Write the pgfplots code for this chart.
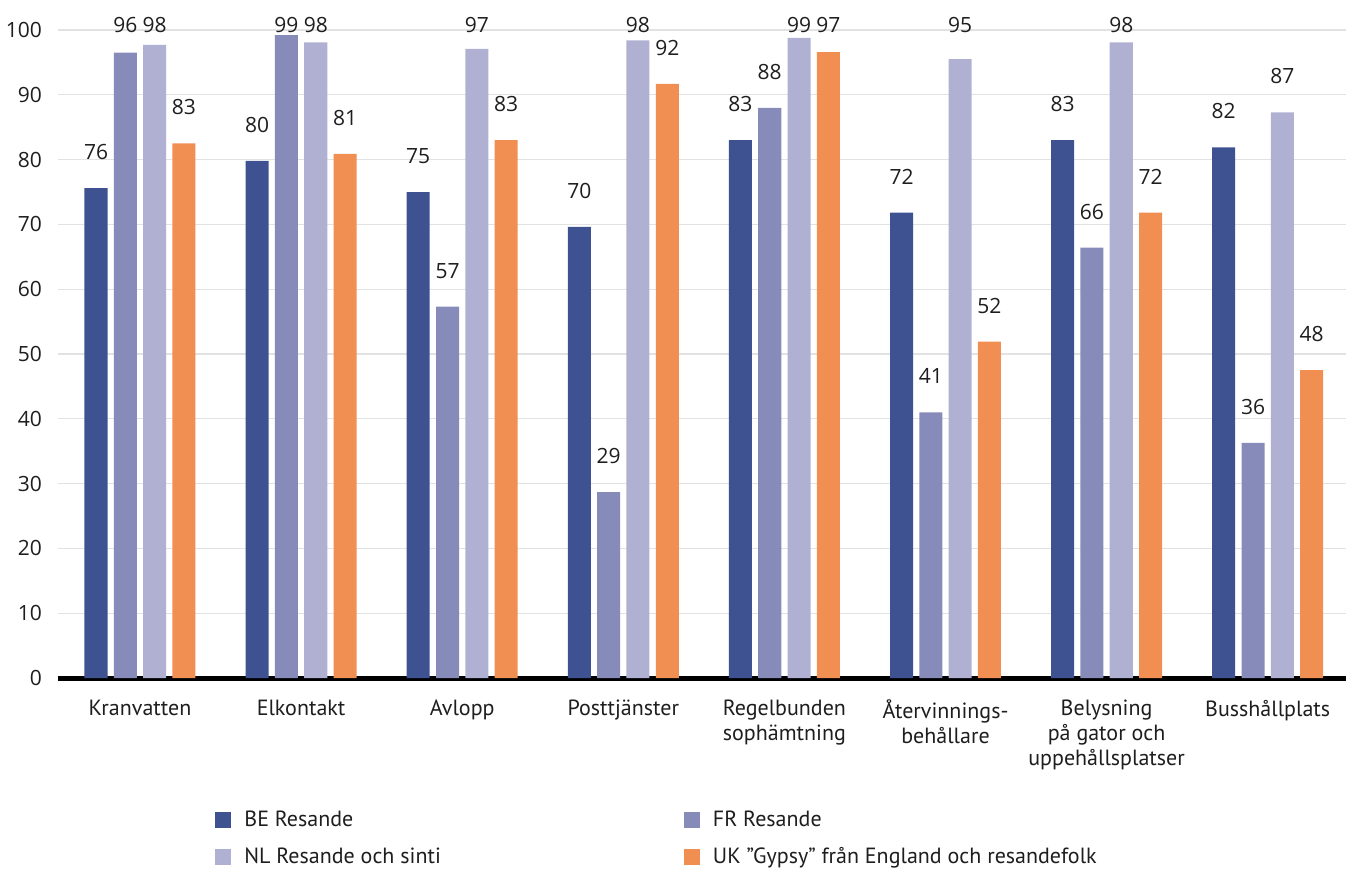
\documentclass[border=0pt]{standalone}
\usepackage{fontspec}
\setmainfont{PT Sans}
\newfontfamily\numfont{Open Sans}
\usepackage{pgfplots}
\pgfplotsset{compat=1.18}
\definecolor{cBE}{RGB}{62,82,145}
\definecolor{cFR}{RGB}{135,139,185}
\definecolor{cNL}{RGB}{176,177,210}
\definecolor{cUK}{RGB}{241,142,82}
\definecolor{cgrid}{RGB}{226,226,226}
\definecolor{ctext}{RGB}{30,30,30}
\begin{document}
\begin{tikzpicture}
\useasboundingbox (-29pt,-95.5pt) rectangle (644pt,339pt);
\begin{axis}[
  scale only axis, width=644pt, height=324pt,
  xmin=-0.509, xmax=7.486, ymin=0, ymax=100,
  clip=false,
  ybar, bar width=0.143,
  axis lines*=left,
  x axis line style={line width=2.5pt,-,black},
  y axis line style={draw=none},
  tick style={draw=none}, major tick length=0pt,
  ymajorgrids, grid style={cgrid,line width=0.6pt},
  ytick={0,10,...,100},
  /pgf/number format/assume math mode=true,
  yticklabel style={font=\numfont\fontsize{10.5}{12}\selectfont, text=ctext, xshift=-4.5pt},
  xtick={0,...,7},
  xticklabels={Kranvatten,Elkontakt,Avlopp,Posttjänster,{Regelbunden\\sophämtning},{Återvinnings-\\behållare},{Belysning\\på gator och\\uppehållsplatser},Busshållplats},
  xticklabel style={font=\fontsize{11}{12.5}\selectfont, text=ctext, align=center, yshift=-7.5pt},
  nodes near coords,
  point meta=explicit,
  visualization depends on={y \as \rawy},
  every node near coord/.append style={font=\numfont\fontsize{10.5}{12}\selectfont, text=ctext, anchor=center, yshift={min(18,(100.8-\rawy)*3.24)}},
  legend columns=2,
  legend cell align=left,
  legend style={at={(0.1219,-0.198)}, anchor=north west, draw=none, fill=none, inner sep=0pt,
    font=\fontsize{11}{12}\selectfont, text=ctext,
    /tikz/every odd column/.append style={column sep=4.5pt},
    /tikz/every even column/.append style={column sep=119.5pt},
    row sep=5pt},
  legend image code/.code={\fill[#1] (0pt,-4pt) rectangle (8pt,4pt);},
]
\addplot[bar shift=-0.273, fill=cBE, draw=none] coordinates {
 (0,75.6) [76] (1,79.8) [80] (2,75.0) [75] (3,69.6) [70] (4,83.0) [83] (5,71.8) [72] (6,83.0) [83] (7,81.9) [82]};
\addplot[bar shift=-0.091, fill=cFR, draw=none] coordinates {
 (0,96.5) [96] (1,99.2) [99] (2,57.3) [57] (3,28.7) [29] (4,88.0) [88] (5,41.0) [41] (6,66.4) [66] (7,36.3) [36]};
\addplot[bar shift=0.091, fill=cNL, draw=none] coordinates {
 (0,97.7) [98] (1,98.1) [98] (2,97.1) [97] (3,98.4) [98] (4,98.8) [99] (5,95.5) [95] (6,98.1) [98] (7,87.3) [87]};
\addplot[bar shift=0.273, fill=cUK, draw=none] coordinates {
 (0,82.5) [83] (1,80.9) [81] (2,83.0) [83] (3,91.7) [92] (4,96.6) [97] (5,51.9) [52] (6,71.8) [72] (7,47.5) [48]};
\legend{BE Resande, FR Resande, NL Resande och sinti, UK ”Gypsy” från England och resandefolk}
\end{axis}
\end{tikzpicture}
\end{document}
